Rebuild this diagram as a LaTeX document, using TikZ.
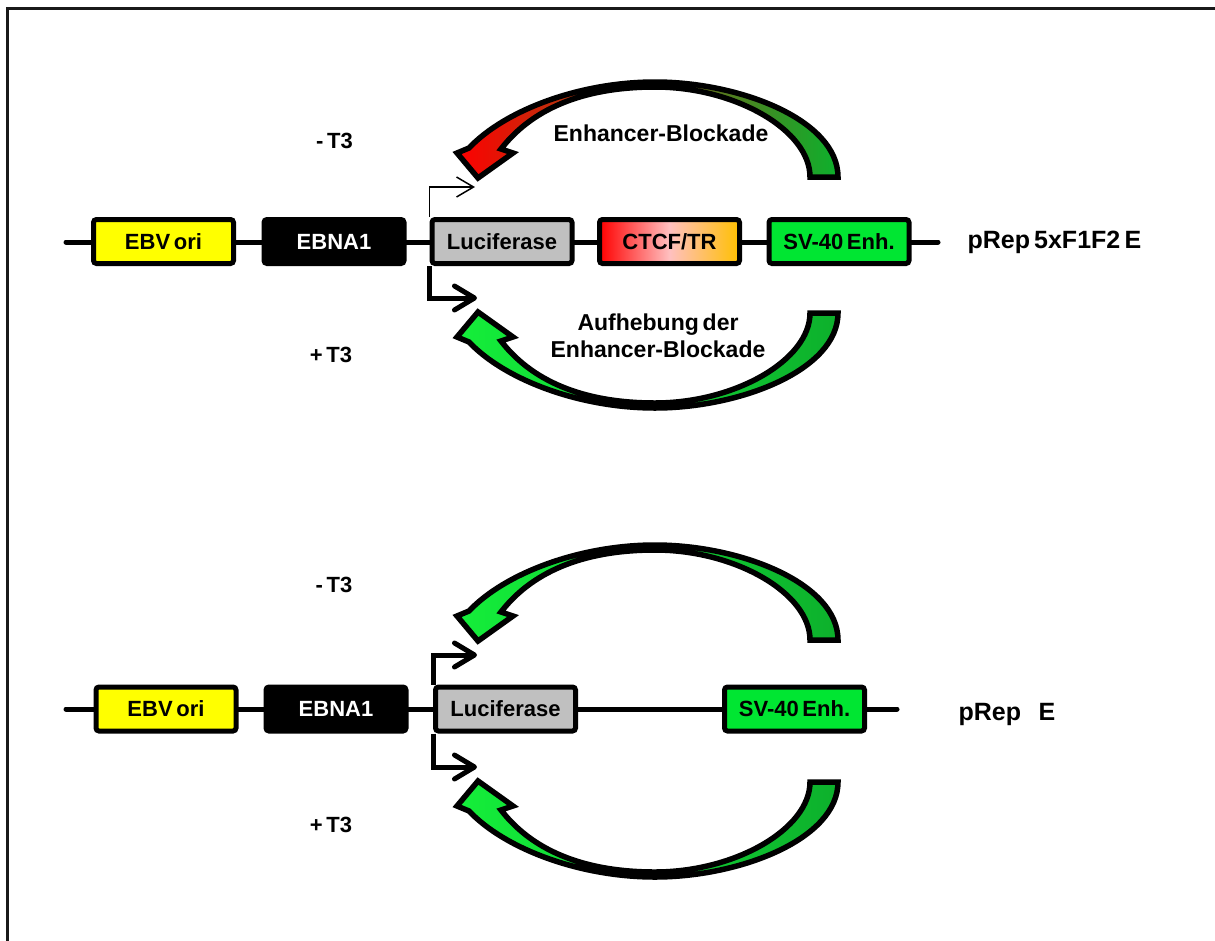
\documentclass[tikz,border=0pt]{standalone}
\usepackage{fontspec}
\setmainfont{Liberation Sans}[WordSpace=0.6]
\usetikzlibrary{arrows.meta}
\definecolor{ebvyellow}{HTML}{FFFF00}
\definecolor{lucgray}{HTML}{C0C0C0}
\definecolor{boxgreen}{HTML}{00E632}
\definecolor{ctcfred}{HTML}{FF0000}
\definecolor{ctcfpink}{HTML}{FFC0C0}
\definecolor{ctcforange}{HTML}{FFC000}
\definecolor{arrred}{HTML}{FF0000}
\definecolor{arrdark}{HTML}{0DB02C}
\definecolor{arrlight}{HTML}{14EE3A}
\newcommand{\crescentshape}[2]{%
  \shadedraw[crescent, left color=#1, right color=#2]
    (469,148) .. controls (505,110) and (580,82) .. (655,82)
    .. controls (740,82) and (838,120) .. (838,177)
    -- (810,177)
    .. controls (810,130) and (735,87) .. (655,87)
    .. controls (590,87) and (535,105) .. (501,149)
    -- (513,153) -- (478,178) -- (457,153) -- cycle;}
\begin{document}
\begin{tikzpicture}[x=1pt,y=-1pt,
  box/.style={draw=black, line width=5pt, rounded corners=3pt, minimum width=140pt,
    minimum height=44pt, inner sep=0pt, font=\fontsize{22}{24}\selectfont\bfseries},
  dna/.style={line width=5pt, line cap=round},
  promthick/.style={line width=5pt, -{Straight Barb[length=20pt,width=24pt,round]}},
  promthin/.style={line width=1.5pt, -{Straight Barb[length=17pt,width=20pt]}},
  lab/.style={font=\fontsize{23}{27}\selectfont\bfseries, align=center},
  tlab/.style={font=\fontsize{22}{24}\selectfont\bfseries},
  plab/.style={font=\fontsize{25}{28}\selectfont\bfseries, anchor=west},
  crescent/.style={line width=5.5pt, line join=miter, miter limit=3}]
\useasboundingbox (0,0) rectangle (1215,940);
\fill[white] (0,0) rectangle (1215,940);
\draw[line width=3pt, black!90] (7.5,8.5) rectangle (1240,960);

% ---------- top construct ----------
\coordinate (l1) at (66,242);
\coordinate (r1) at (938,242);
\draw[dna] (l1) -- (r1);
\node[box, fill=ebvyellow] (ebv1) at (163.5,241.5) {EBV ori};
\node[box, fill=black, text=white] (ebna1) at (334,241.5) {EBNA1};
\node[box, fill=lucgray] (luc1) at (502,241.5) {Luciferase};
\node[box, left color=ctcfred, right color=ctcforange, middle color=ctcfpink] (ctcf1) at (669.5,241.5) {CTCF/TR};
\node[box, fill=boxgreen] (sv1) at (839,241.5) {SV-40 Enh.};
\node[plab] (name1) at (964,242) {pRep 5xF1F2 E};

\coordinate (ta1) at (475,187);
\coordinate (ba1) at (477,298);
\draw[promthin] (luc1.north west) |- (ta1);
\draw[promthick] (luc1.south west) |- (ba1);

\crescentshape{arrred}{arrdark}
\begin{scope}[shift={(0,490)}, yscale=-1]
  \crescentshape{arrlight}{arrdark}
\end{scope}

\node[tlab] (m1) at (334.5,141) {- T3};
\node[tlab] (p1) at (331,355) {+ T3};
\node[lab] (eb1) at (661,133) {Enhancer-Blockade};
\node[lab] (au1) at (658,336) {Aufhebung der\\Enhancer-Blockade};

% ---------- bottom construct ----------
\coordinate (l2) at (66,709);
\coordinate (r2) at (897,709);
\draw[dna] (l2) -- (r2);
\node[box, fill=ebvyellow] (ebv2) at (166,709) {EBV ori};
\node[box, fill=black, text=white] (ebna2) at (336,709) {EBNA1};
\node[box, fill=lucgray] (luc2) at (505.5,709) {Luciferase};
\node[box, fill=boxgreen] (sv2) at (794.5,709) {SV-40 Enh.};
\node[plab] (name2) at (955,714) {pRep\hspace{0.7em}E};

\coordinate (ta2) at (477,655);
\coordinate (ba2) at (477,767);
\draw[promthick] (luc2.north west) |- (ta2);
\draw[promthick] (luc2.south west) |- (ba2);

\begin{scope}[shift={(0,463)}]
  \crescentshape{arrlight}{arrdark}
\end{scope}
\begin{scope}[shift={(0,959)}, yscale=-1]
  \crescentshape{arrlight}{arrdark}
\end{scope}

\node[tlab] (m2) at (334,585) {- T3};
\node[tlab] (p2) at (331,825) {+ T3};
\end{tikzpicture}
\end{document}
